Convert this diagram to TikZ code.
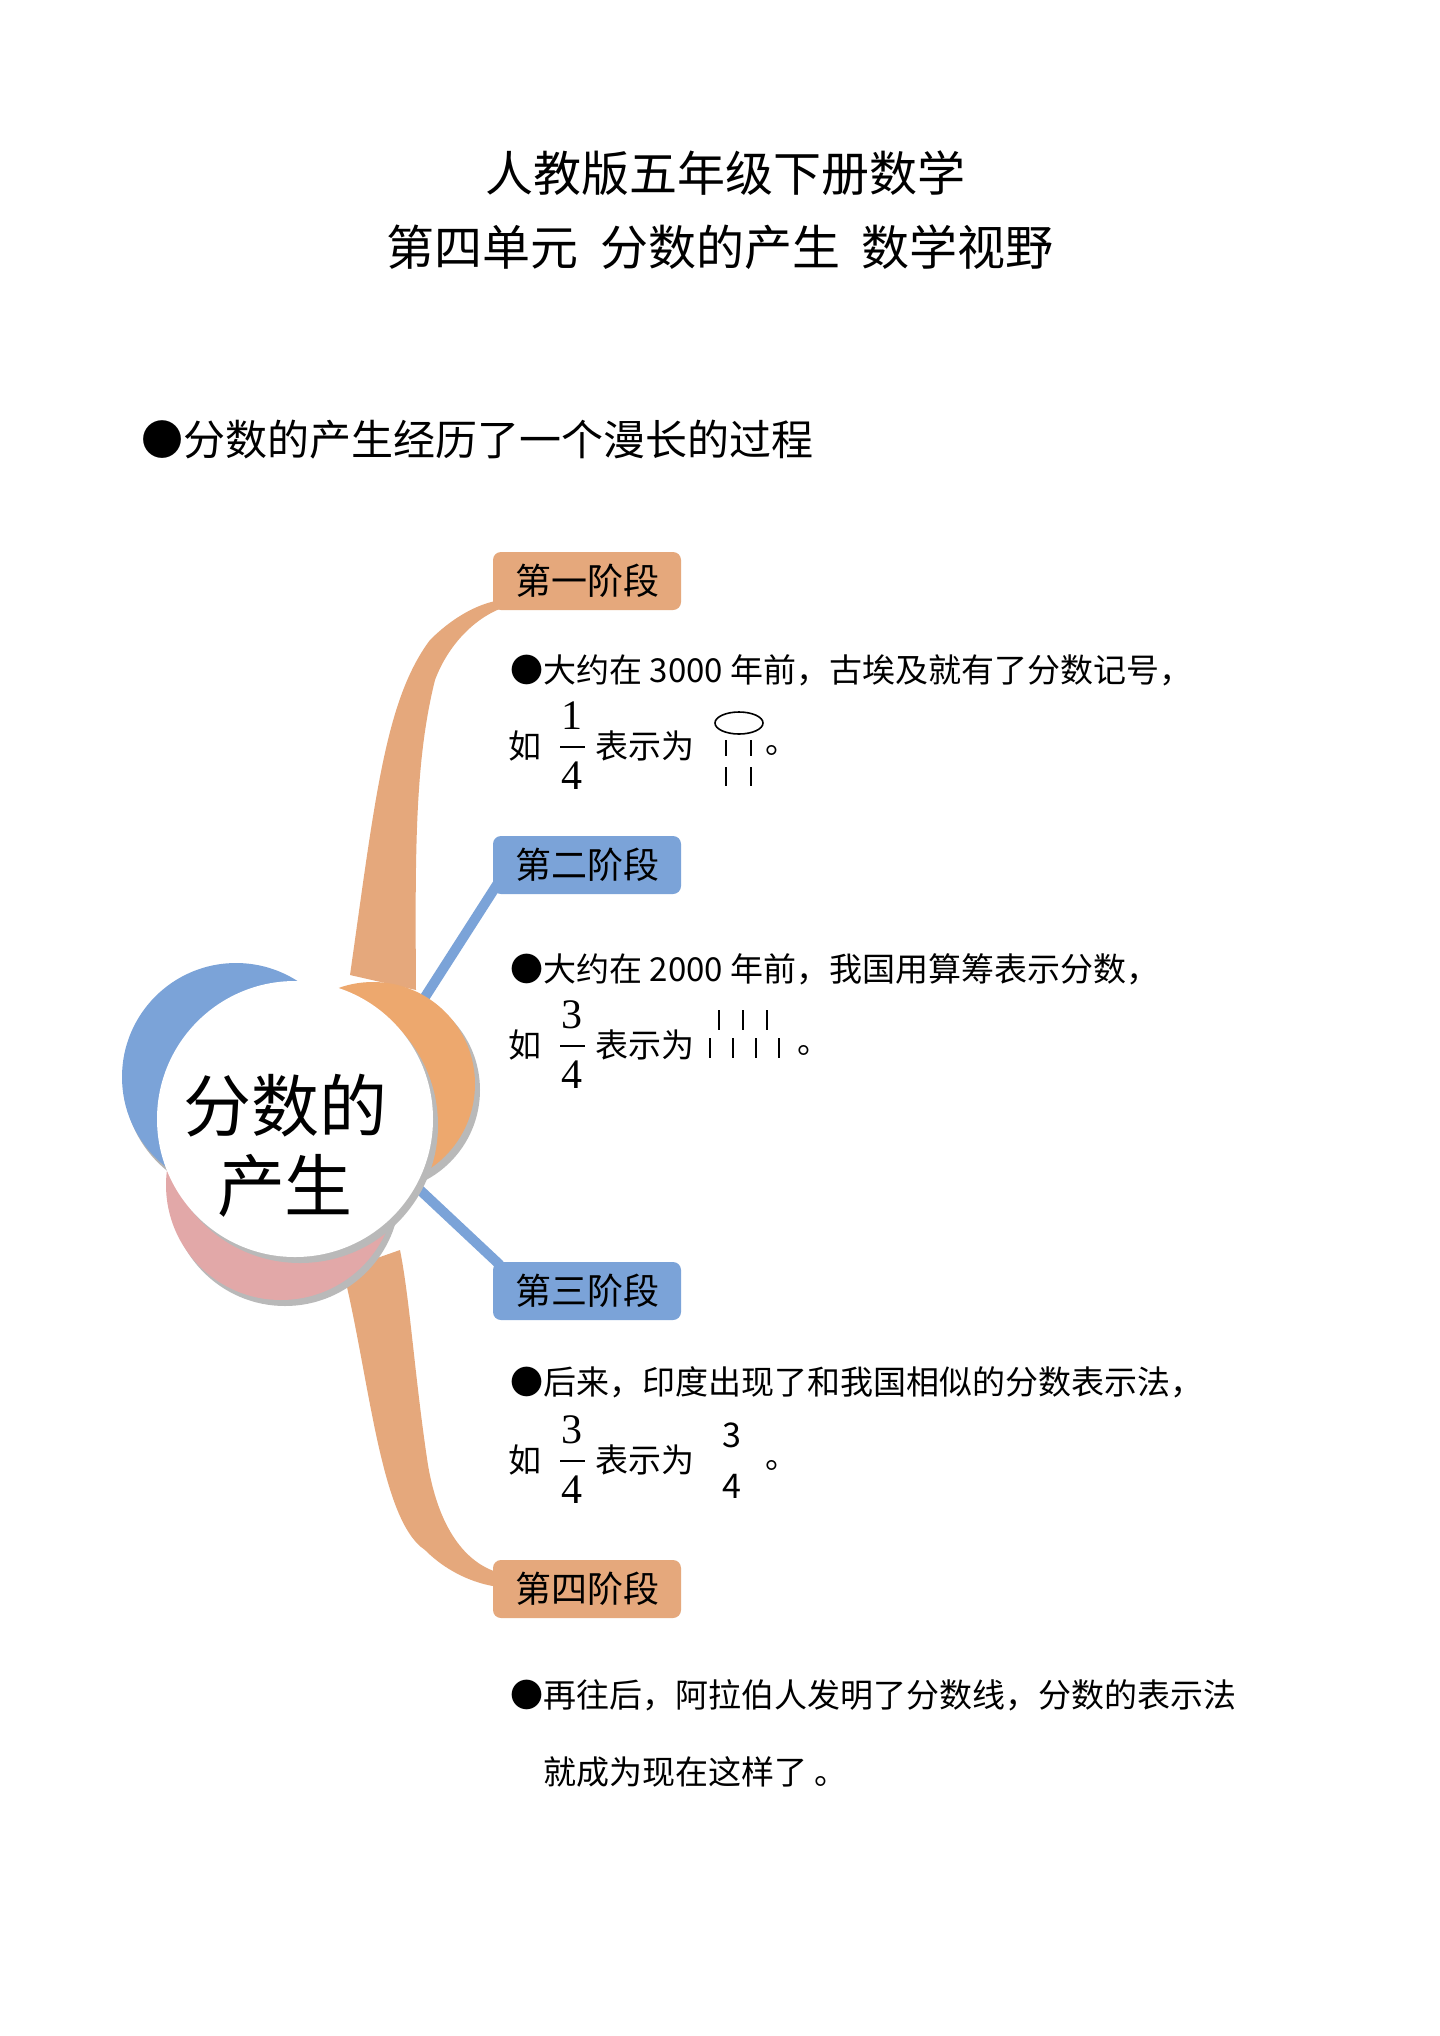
\documentclass[tikz,border=0pt]{standalone}
\usepackage{fontspec}
\setmainfont{Liberation Serif}
\newfontfamily\cjk{Noto Sans CJK SC}
\definecolor{orng}{HTML}{E5A87C}
\definecolor{orng2}{HTML}{EDA86E}
\definecolor{blu}{HTML}{7BA3D8}
\definecolor{pnk}{HTML}{E2A8A8}
\begin{document}
\begin{tikzpicture}[x=0.5pt,y=-0.5pt,
  stagebox/.style={rounded corners=4pt,minimum width=94pt,minimum height=29pt,inner sep=0pt,font=\cjk\fontsize{18}{20}\selectfont},
  body/.style={anchor=west,inner sep=0pt,font=\cjk\fontsize{16.5}{19}\selectfont},
  num/.style={inner sep=0pt,font=\fontsize{21}{22}\selectfont},
  rod/.style={line width=0.8pt}]
\useasboundingbox (0,0) rectangle (1440,2036);
\fill[white] (0,0) rectangle (1440,2036);
% titles
\node[font=\cjk\fontsize{24}{28}\selectfont] (t1) at (725,173) {人教版五年级下册数学};
\node[font=\cjk\fontsize{24}{28}\selectfont] (t2) at (720,247) {第四单元\ \ 分数的产生\ \ 数学视野};
\node[anchor=west,inner sep=0pt,font=\cjk\fontsize{21}{24}\selectfont] (h) at (141,440) {●分数的产生经历了一个漫长的过程};
% branches
\fill[orng] (350,975) .. controls (375,800) and (385,700) .. (430,640) .. controls (460,610) and (490,600) .. (505,600)
  -- (505,607) .. controls (480,615) and (450,640) .. (435,680) .. controls (415,760) and (415,850) .. (416,990) -- cycle;
\fill[orng] (343,1270) .. controls (370,1380) and (380,1520) .. (425,1550) .. controls (450,1575) and (480,1585) .. (500,1587)
  -- (500,1573) .. controls (470,1565) and (440,1535) .. (428,1465) .. controls (415,1380) and (410,1300) .. (400,1250) -- cycle;
\draw[blu,line width=5pt] (425,997) -- (500,880);
\draw[blu,line width=5pt] (420,1190) -- (500,1265);
% central circles
\fill[gray!60] (239,1081) circle (115);
\fill[blu] (236,1077) circle (114);
\fill[gray!55] (285,1191) circle (115);
\fill[pnk] (281,1185) circle (115);
\fill[gray!55] (378,1090) circle (102);
\fill[orng2] (373,1084) circle (102);
\fill[gray!55] (300,1125) circle (138);
\fill[white] (295,1119) circle (138);
\node[font=\cjk\fontsize{34}{40}\selectfont,align=center] (c) at (285,1146) {分数的\\产生};
% stage boxes
\node[stagebox,fill=orng] (s1) at (587,581) {第一阶段};
\node[stagebox,fill=blu] (s2) at (587,865) {第二阶段};
\node[stagebox,fill=blu] (s3) at (587,1291) {第三阶段};
\node[stagebox,fill=orng] (s4) at (587,1589) {第四阶段};
% stage 1
\node[body] (a1) at (510,670) {●大约在 3000 年前，古埃及就有了分数记号，};
\node[body] (r1) at (508,746) {如};
\node[num] (n1) at (572,716) {1};
\node[num] (d1) at (572,776) {4};
\draw[line width=0.6pt] (560,747) -- (585,747);
\node[body] (w1) at (595,746) {表示为};
\draw[rod] (739,723) ellipse (24 and 11);
\draw[rod] (726,740) -- (726,756) (751,740) -- (751,756) (726,767) -- (726,786) (751,767) -- (751,786);
\node[body] (p1) at (765,750) {。};
% stage 2
\node[body] (a2) at (510,969) {●大约在 2000 年前，我国用算筹表示分数，};
\node[body] (r2) at (508,1045) {如};
\node[num] (n2) at (572,1015) {3};
\node[num] (d2) at (572,1075) {4};
\draw[line width=0.6pt] (560,1046) -- (585,1046);
\node[body] (w2) at (595,1045) {表示为};
\draw[rod] (719,1010) -- (719,1030) (743,1010) -- (743,1030) (767,1010) -- (767,1030);
\draw[rod] (710,1038) -- (710,1058) (733,1038) -- (733,1058) (756,1038) -- (756,1058) (779,1038) -- (779,1058);
\node[body] (p2) at (797,1050) {。};
% stage 3
\node[body] (a3) at (510,1382) {●后来，印度出现了和我国相似的分数表示法，};
\node[body] (r3) at (508,1460) {如};
\node[num] (n3) at (572,1430) {3};
\node[num] (d3) at (572,1490) {4};
\draw[line width=0.6pt] (560,1461) -- (585,1461);
\node[body] (w3) at (595,1460) {表示为};
\node[inner sep=0pt,font=\cjk\fontsize{17}{18}\selectfont] (n3b) at (732,1435) {3};
\node[inner sep=0pt,font=\cjk\fontsize{17}{18}\selectfont] (d3b) at (732,1486) {4};
\node[body] (p3) at (765,1465) {。};
% stage 4
\node[body] (a4) at (510,1695) {●再往后，阿拉伯人发明了分数线，分数的表示法};
\node[body] (b4) at (543,1772) {就成为现在这样了\ 。};
\end{tikzpicture}
\end{document}
